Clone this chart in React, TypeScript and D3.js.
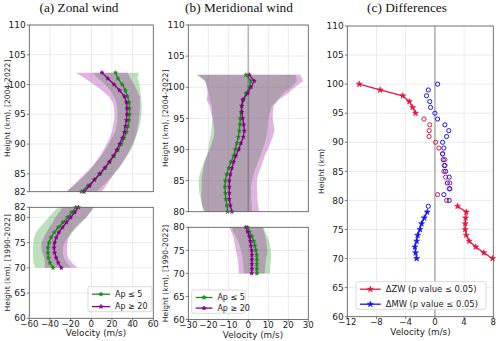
import React from 'react';
import * as d3 from 'd3';

// ---------- DATA ----------
// (a) Zonal wind, upper panel [2004-2022], heights 102 -> 82 km
const zwTopHeights = [102, 101, 100, 99, 98, 97, 96, 95, 94, 93, 92, 91, 90, 89, 88, 87, 86, 85, 84, 83, 82];
const zwTopQuiet = [23.5, 25.8, 30, 33, 35, 36.5, 37, 37, 36.5, 35.5, 34, 31.6, 29, 25.8, 22, 17.7, 13.5, 8.7, 3.2, -3.2, -9.7];
const zwTopQuietSd = [22.6, 19, 16.6, 14.5, 13, 12.2, 11.8, 11.5, 11.3, 11.2, 11, 11.5, 12, 12.3, 12.5, 13, 13.2, 13.5, 14, 14.3, 14.5];
const zwTopActive = [10.3, 16, 22, 27.4, 32, 34, 34.5, 34.5, 34, 33, 32, 30, 27.4, 24.5, 21.3, 17.4, 13, 8, 3, -1.6, -7];
const zwTopActiveSd = [25, 22, 19.4, 17, 15, 13, 12.5, 12, 12, 12, 12, 12.3, 12.5, 12.8, 13, 13.2, 13.5, 14, 15, 16, 17];

// (a) Zonal wind, lower panel [1990-2022], heights 82 -> 70 km
const zwBotHeights = [82, 81, 80, 79, 78, 77, 76, 75, 74, 73, 72, 71, 70];
const zwBotQuiet = [-15, -19, -23, -27.5, -32, -36, -39, -41, -42, -42, -41.5, -40, -37];
const zwBotQuietSd = [17, 18, 18, 18, 18, 17.5, 16.5, 15, 14.5, 14.5, 15, 16, 17.5];
const zwBotActive = [-12.5, -16, -20, -24, -28, -31.5, -34, -35.5, -36, -35.5, -34, -32, -29];
const zwBotActiveSd = [15.5, 15, 15, 13.5, 12.5, 12, 12, 12.5, 12.5, 12, 11.5, 13, 16];

// (b) Meridional wind, upper panel [2004-2022], heights 102 -> 80 km
const mwTopHeights = [102, 101, 100, 99, 98, 97, 96, 95, 94, 93, 92, 91, 90, 89, 88, 87, 86, 85, 84, 83, 82, 81, 80];
const mwTopQuiet = [-1.2, 1.3, 0.5, -1.2, -2.3, -3.2, -3.7, -4, -4.2, -4.5, -5, -5.7, -6.5, -7.3, -8.7, -9.8, -10.8, -11.5, -11.7, -11.5, -11.2, -10.7, -10.3];
const mwTopQuietSd = [25, 23, 21, 18.5, 17, 15, 14.5, 14, 14, 14, 14, 14, 13.5, 13.5, 13.5, 13.5, 13.5, 13.3, 13, 13, 12.5, 12.5, 12];
const mwTopActive = [0.5, 3, 1.3, -0.3, -2.8, -3.3, -3.2, -2.8, -2.3, -2, -2.5, -3.7, -4.8, -6.2, -7.3, -8.2, -9, -9.5, -9.5, -9.5, -9.5, -9, -8.2];
const mwTopActiveSd = [25.5, 24.5, 22, 20, 18, 16, 15.5, 15, 15, 15, 14.8, 14.6, 14.5, 14.5, 14.5, 14.3, 14, 13.8, 13.8, 14, 14, 14, 13.5];

// (b) Meridional wind, lower panel [1990-2022], heights 80 -> 70 km
const mwBotHeights = [80, 79, 78, 77, 76, 75, 74, 73, 72, 71, 70];
const mwBotQuiet = [-0.3, 0.5, 1.8, 2.7, 3.3, 3.8, 4.2, 4.3, 4.3, 4.3, 4.3];
const mwBotQuietSd = [8, 8, 7.8, 7.7, 7.6, 7.5, 7.3, 7, 6.8, 6.6, 6.5];
const mwBotActive = [-1.2, -0.3, 0.5, 1, 1.3, 1.7, 1.8, 1.8, 1.8, 1.8, 1.7];
const mwBotActiveSd = [8.3, 8.2, 8, 8, 7.9, 7.9, 7.5, 7, 6.8, 6.6, 6.5];

// (c) Differences, heights 100 -> 70 km
const diffHeights = [100, 99, 98, 97, 96, 95, 94, 93, 92, 91, 90, 89, 88, 87, 86, 85, 84, 83, 82, 81, 80, 79, 78, 77, 76, 75, 74, 73, 72, 71, 70];
const dZW = [-10.37, -7.5, -4.4, -3.5, -3.05, -2.65, -1.5, -0.7, -0.78, -0.8, 0.1, 0.55, 1.05, 1.37, 1.28, 1.23, 1.46, 2.05, 1.96, 0.37, 1.6, 3.1, 4.3, 4.2, 4.15, 4.15, 4.3, 4.7, 5.6, 6.7, 7.9];
const dMW = [0.37, -0.9, -1.15, -0.7, -0.6, 0, 0.37, 1.37, 1.9, 1.6, 1.05, 1.23, 1.05, 1.14, 1.37, 1.46, 1.96, 1.7, 2.05, 1.23, 1.96, -0.9, -1.05, -1.46, -1.83, -2.05, -2.37, -2.5, -2.74, -2.65, -2.5];
// significant (p <= 0.05) height ranges
const dZWSigRanges = [[100, 95], [79, 70]];
const dMWSigRanges = [[78, 70]];

const zwXTicks = [-60, -40, -20, 0, 20, 40, 60];
const mwXTicks = [-30, -20, -10, 0, 10, 20, 30];
const diffXTicks = [-12, -8, -4, 0, 4, 8];
const zwTopYTicks = [82, 85, 90, 95, 100, 105, 110];
const zwBotYTicks = [60, 65, 70, 75, 80, 82];
const mwTopYTicks = [80, 85, 90, 95, 100, 105, 110];
const mwBotYTicks = [60, 65, 70, 75, 80];
const diffYTicks = [60, 65, 70, 75, 80, 85, 90, 95, 100, 105, 110];

const legendQuiet = 'Ap ≤ 5';
const legendActive = 'Ap ≥ 20';
const legendZW = 'ΔZW (p value ≤ 0.05)';
const legendMW = 'ΔMW (p value ≤ 0.05)';

// ---------- STYLE ----------
const GREEN = '#168a16';
const PURPLE = '#850085';
const RED = '#e0163f';
const BLUE = '#1515f5';
const SANS = 'DejaVu Sans, sans-serif';
const SERIF = 'Liberation Serif, Times New Roman, serif';
const GRID = '#e6e6e6';
const SPINE = '#5a5a5a';
const TXT = '#222';

const fmt = (v: number) => (v < 0 ? '\u2212' + Math.abs(v) : String(v));

type Scale = d3.ScaleLinear<number, number>;

function Frame({ x, y, xTicks, yTicks, showXLabels, zero }: { x: Scale; y: Scale; xTicks: number[]; yTicks: number[]; showXLabels: boolean; zero?: boolean }) {
  const [x0, x1] = x.range();
  const [y0, y1] = y.range(); // y0 bottom, y1 top
  return (
    <g>
      {xTicks.map((t) => (
        <line key={'gx' + t} x1={x(t)} x2={x(t)} y1={y0} y2={y1} stroke={GRID} strokeWidth={0.8} />
      ))}
      {yTicks.map((t) => (
        <line key={'gy' + t} x1={x0} x2={x1} y1={y(t)} y2={y(t)} stroke={GRID} strokeWidth={0.8} />
      ))}
      {zero && <line x1={x(0)} x2={x(0)} y1={y0} y2={y1} stroke="#b4b4b4" strokeWidth={1.6} />}
      {yTicks.map((t) => (
        <g key={'ty' + t}>
          <line x1={x0 - 2.5} x2={x0} y1={y(t)} y2={y(t)} stroke={SPINE} strokeWidth={0.8} />
          <text x={x0 - 3.5} y={y(t)} dy="0.35em" textAnchor="end" fontSize={9} fontFamily={SANS} fill={TXT}>
            {t}
          </text>
        </g>
      ))}
      {showXLabels &&
        xTicks.map((t) => (
          <g key={'tx' + t}>
            <line x1={x(t)} x2={x(t)} y1={y0} y2={y0 + 2.5} stroke={SPINE} strokeWidth={0.8} />
            <text x={x(t)} y={y0 + 8.6} textAnchor="middle" fontSize={8.6} fontFamily={SANS} fill={TXT}>
              {fmt(t)}
            </text>
          </g>
        ))}
    </g>
  );
}

function Border({ x, y }: { x: Scale; y: Scale }) {
  const [x0, x1] = x.range();
  const [y0, y1] = y.range();
  return <rect x={x0} y={y1} width={x1 - x0} height={y0 - y1} fill="none" stroke={SPINE} strokeWidth={0.8} />;
}

function Profile({ heights, mean, sd, x, y, color }: { heights: number[]; mean: number[]; sd: number[]; x: Scale; y: Scale; color: string }) {
  const area = d3
    .area<number>()
    .y((d) => y(d))
    .x0((d, i) => x(mean[i] - sd[i]))
    .x1((d, i) => x(mean[i] + sd[i]));
  return <path d={area(heights) || ''} fill={color} fillOpacity={0.32} stroke="none" />;
}

function MeanLine({ heights, mean, x, y, color, star = 5 }: { heights: number[]; mean: number[]; x: Scale; y: Scale; color: string; star?: number }) {
  const line = d3
    .line<number>()
    .x((d, i) => x(mean[i]))
    .y((d) => y(d));
  const sym = d3.symbol(d3.symbolStar, star)() || '';
  return (
    <g>
      <path d={line(heights) || ''} fill="none" stroke={color} strokeWidth={1.3} />
      {heights.map((h, i) => (
        <path key={h} d={sym} transform={`translate(${x(mean[i])},${y(h)})`} fill={color} stroke={color} strokeWidth={0.6} />
      ))}
    </g>
  );
}

function YLabel({ x, yc, text }: { x: number; yc: number; text: string }) {
  return (
    <text transform={`translate(${x},${yc}) rotate(-90)`} textAnchor="middle" fontSize={7.6} fontFamily={SANS} fill={TXT}>
      {text}
    </text>
  );
}

function Legend({ x, y, w, h, rows, lineLen, fs, rowGap, star }: { x: number; y: number; w: number; h: number; rows: { label: string; color: string }[]; lineLen: number; fs: number; rowGap: number; star: number }) {
  const sym = d3.symbol(d3.symbolStar, star)() || '';
  return (
    <g>
      <rect x={x} y={y} width={w} height={h} rx={2} fill="white" fillOpacity={0.85} stroke="#cfcfcf" strokeWidth={0.8} />
      {rows.map((r, i) => {
        const ry = y + 7.5 + i * rowGap;
        const lx = x + 4;
        return (
          <g key={r.label}>
            <line x1={lx} x2={lx + lineLen} y1={ry} y2={ry} stroke={r.color} strokeWidth={1.3} />
            <path d={sym} transform={`translate(${lx + lineLen / 2},${ry})`} fill={r.color} stroke={r.color} strokeWidth={0.6} />
            <text x={lx + lineLen + 5} y={ry} dy="0.35em" fontSize={fs} fontFamily={SANS} fill={TXT}>
              {r.label}
            </text>
          </g>
        );
      })}
    </g>
  );
}

export default function App() {
  // scales
  const xA = d3.scaleLinear().domain([-60, 60]).range([29.3, 153.3]);
  const yATop = d3.scaleLinear().domain([82, 110]).range([191.7, 25]);
  const yABot = d3.scaleLinear().domain([60, 82]).range([318.3, 207.3]);
  const xB = d3.scaleLinear().domain([-30, 30]).range([188.3, 308.3]);
  const yBTop = d3.scaleLinear().domain([80, 110]).range([211.7, 25]);
  const yBBot = d3.scaleLinear().domain([60, 80]).range([319.5, 227.3]);
  const xC = d3.scaleLinear().domain([-12, 8]).range([347.3, 493.3]);
  const yC = d3.scaleLinear().domain([60, 110]).range([316.7, 26]);

  const inRanges = (h: number, ranges: number[][]) => ranges.some(([a, b]) => h <= a && h >= b);
  const circles = (vals: number[], ranges: number[][]) =>
    diffHeights.map((h, i) => ({ h, v: vals[i] })).filter((d) => !inRanges(d.h, ranges));
  const segs = (vals: number[], ranges: number[][]) =>
    ranges.map(([a, b]) => {
      const idx = diffHeights.map((h, i) => i).filter((i) => diffHeights[i] <= a && diffHeights[i] >= b);
      return { hs: idx.map((i) => diffHeights[i]), vs: idx.map((i) => vals[i]) };
    });

  return (
    <svg width={500} height={341} style={{ position: 'absolute', left: 0, top: 0, background: 'white' }}>
      {/* Titles */}
      <text x={79} y={12} textAnchor="middle" fontSize={13.3} fontFamily={SERIF} fill="#111">(a) Zonal wind</text>
      <text x={239} y={12} textAnchor="middle" fontSize={13.3} fontFamily={SERIF} fill="#111">(b) Meridional wind</text>
      <text x={407} y={12} textAnchor="middle" fontSize={13.3} fontFamily={SERIF} fill="#111">(c) Differences</text>

      {/* Panel a top */}
      <Frame x={xA} y={yATop} xTicks={zwXTicks} yTicks={zwTopYTicks} showXLabels={false} />
      <Profile heights={zwTopHeights} mean={zwTopQuiet} sd={zwTopQuietSd} x={xA} y={yATop} color="#2ca02c" />
      <Profile heights={zwTopHeights} mean={zwTopActive} sd={zwTopActiveSd} x={xA} y={yATop} color="#9a1a9a" />
      <MeanLine heights={zwTopHeights} mean={zwTopQuiet} x={xA} y={yATop} color={GREEN} />
      <MeanLine heights={zwTopHeights} mean={zwTopActive} x={xA} y={yATop} color={PURPLE} />
      <Border x={xA} y={yATop} />
      <YLabel x={10} yc={108.3} text="Height (km), [2004-2022]" />

      {/* Panel a bottom */}
      <Frame x={xA} y={yABot} xTicks={zwXTicks} yTicks={zwBotYTicks} showXLabels={true} />
      <Profile heights={zwBotHeights} mean={zwBotQuiet} sd={zwBotQuietSd} x={xA} y={yABot} color="#2ca02c" />
      <Profile heights={zwBotHeights} mean={zwBotActive} sd={zwBotActiveSd} x={xA} y={yABot} color="#9a1a9a" />
      <MeanLine heights={zwBotHeights} mean={zwBotQuiet} x={xA} y={yABot} color={GREEN} />
      <MeanLine heights={zwBotHeights} mean={zwBotActive} x={xA} y={yABot} color={PURPLE} />
      <Border x={xA} y={yABot} />
      <YLabel x={10} yc={262.8} text="Height (km), [1990-2022]" />
      <text x={96} y={336} textAnchor="middle" fontSize={8.8} fontFamily={SANS} fill={TXT}>Velocity (m/s)</text>
      <Legend x={88} y={286.7} w={64} h={25} lineLen={18} fs={8} rowGap={12.4} star={6}
        rows={[{ label: legendQuiet, color: GREEN }, { label: legendActive, color: PURPLE }]} />

      {/* Panel b top */}
      <Frame x={xB} y={yBTop} xTicks={mwXTicks} yTicks={mwTopYTicks} showXLabels={false} zero />
      <Profile heights={mwTopHeights} mean={mwTopQuiet} sd={mwTopQuietSd} x={xB} y={yBTop} color="#2ca02c" />
      <Profile heights={mwTopHeights} mean={mwTopActive} sd={mwTopActiveSd} x={xB} y={yBTop} color="#9a1a9a" />
      <MeanLine heights={mwTopHeights} mean={mwTopQuiet} x={xB} y={yBTop} color={GREEN} />
      <MeanLine heights={mwTopHeights} mean={mwTopActive} x={xB} y={yBTop} color={PURPLE} />
      <Border x={xB} y={yBTop} />
      <YLabel x={168} yc={118.3} text="Height (km), [2004-2022]" />

      {/* Panel b bottom */}
      <Frame x={xB} y={yBBot} xTicks={mwXTicks} yTicks={mwBotYTicks} showXLabels={true} />
      <Profile heights={mwBotHeights} mean={mwBotQuiet} sd={mwBotQuietSd} x={xB} y={yBBot} color="#2ca02c" />
      <Profile heights={mwBotHeights} mean={mwBotActive} sd={mwBotActiveSd} x={xB} y={yBBot} color="#9a1a9a" />
      <MeanLine heights={mwBotHeights} mean={mwBotQuiet} x={xB} y={yBBot} color={GREEN} />
      <MeanLine heights={mwBotHeights} mean={mwBotActive} x={xB} y={yBBot} color={PURPLE} />
      <Border x={xB} y={yBBot} />
      <YLabel x={168} yc={273.5} text="Height (km), [1990-2022]" />
      <text x={253} y={337.5} textAnchor="middle" fontSize={8.8} fontFamily={SANS} fill={TXT}>Velocity (m/s)</text>
      <Legend x={191.7} y={290} w={53.3} h={23.3} lineLen={16.7} fs={8} rowGap={10.6} star={6}
        rows={[{ label: legendQuiet, color: GREEN }, { label: legendActive, color: PURPLE }]} />

      {/* Panel c */}
      <Frame x={xC} y={yC} xTicks={diffXTicks} yTicks={diffYTicks} showXLabels={true} zero />
      {circles(dZW, dZWSigRanges).map((d) => (
        <circle key={'rz' + d.h} cx={xC(d.v)} cy={yC(d.h)} r={2.1} fill="none" stroke={RED} strokeWidth={1} />
      ))}
      {circles(dMW, dMWSigRanges).map((d) => (
        <circle key={'bm' + d.h} cx={xC(d.v)} cy={yC(d.h)} r={2.1} fill="none" stroke={BLUE} strokeWidth={1} />
      ))}
      {segs(dZW, dZWSigRanges).map((s, i) => (
        <MeanLine key={'zs' + i} heights={s.hs} mean={s.vs} x={xC} y={yC} color={RED} star={11} />
      ))}
      {segs(dMW, dMWSigRanges).map((s, i) => (
        <MeanLine key={'ms' + i} heights={s.hs} mean={s.vs} x={xC} y={yC} color={BLUE} star={11} />
      ))}
      <Border x={xC} y={yC} />
      <YLabel x={324} yc={171.3} text="Height (km)" />
      <text x={420.5} y={335} textAnchor="middle" fontSize={8.8} fontFamily={SANS} fill={TXT}>Velocity (m/s)</text>
      <Legend x={356} y={281.7} w={130} h={27.6} lineLen={20.7} fs={8.4} rowGap={15} star={11}
        rows={[{ label: legendZW, color: RED }, { label: legendMW, color: BLUE }]} />
    </svg>
  );
}
